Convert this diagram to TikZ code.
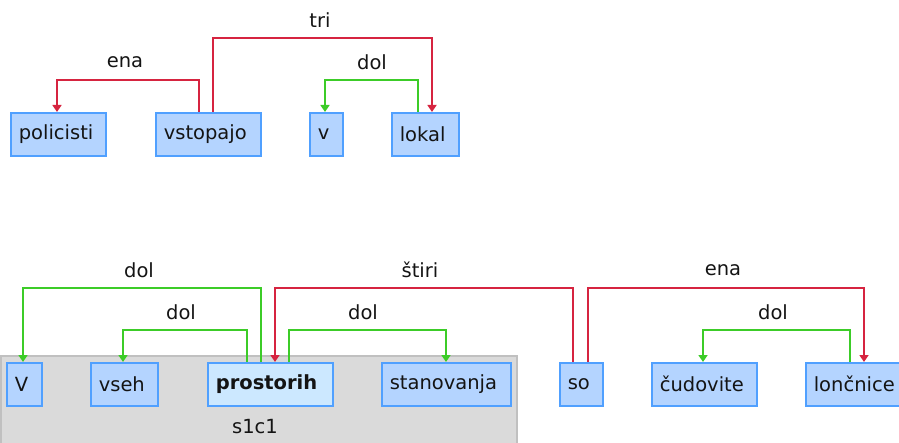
\documentclass[tikz,border=0pt]{standalone}
\usepackage{fontspec}
\setmainfont{DejaVu Sans}
\usetikzlibrary{arrows.meta}
\definecolor{boxfill}{RGB}{180,212,255}
\definecolor{boxline}{RGB}{80,160,255}
\definecolor{headfill}{RGB}{204,232,255}
\definecolor{relred}{RGB}{214,36,64}
\definecolor{relgreen}{RGB}{60,204,40}
\definecolor{grpfill}{RGB}{218,218,218}
\definecolor{grpline}{RGB}{192,192,192}
\definecolor{txt}{RGB}{20,20,20}
\begin{document}
\begin{tikzpicture}[x=1pt,y=-1pt,
  word/.style={draw=boxline,fill=boxfill,line width=1.6pt,anchor=north west,
    minimum height=43pt,inner xsep=8pt,inner ysep=0pt,align=left,
    font=\fontsize{19.5}{22}\selectfont,text=txt},
  lab/.style={font=\fontsize{19.5}{22}\selectfont,text=txt,inner sep=0pt},
  redarr/.style={draw=relred,line width=1.7pt,-{Triangle[width=9pt,length=7pt]}},
  greenarr/.style={draw=relgreen,line width=1.7pt,-{Triangle[width=9pt,length=7pt]}}]
\useasboundingbox (0,0) rectangle (899,443);
\begin{scope}
\clip (0,0) rectangle (899,443);
% group
\node[draw=grpline,fill=grpfill,line width=1.5pt,anchor=north west,minimum width=516pt,minimum height=100pt,inner sep=0pt] (grp) at (0,355) {};
\node[lab] (grplab) at (255,427) {s1c1};
% top row
\node[word,text width=79pt] (policisti) at (10,112) {policisti};
\node[word,text width=89pt] (vstopajo) at (155,112) {vstopajo};
\node[word,text width=17pt] (v1) at (309,112) {v};
\node[word,text width=51pt] (lokal) at (391,112) {lokal};
% bottom row
\node[word,text width=19pt] (V2) at (6,362) {V};
\node[word,text width=51pt] (vseh) at (90,362) {vseh};
\node[word,text width=109pt,fill=headfill,font=\fontsize{19.5}{22}\selectfont\bfseries] (prostorih) at (207,362) {prostorih};
\node[word,text width=113pt] (stanovanja) at (381,362) {stanovanja};
\node[word,text width=27pt] (so) at (559,362) {so};
\node[word,text width=89pt] (cudovite) at (651,362) {čudovite};
\node[word,text width=84pt] (loncnice) at (805,362) {lončnice};
% top arcs
\draw[redarr] ([xshift=44pt]vstopajo.north west) -- ++(0,-32) -| ([xshift=47pt]policisti.north west);
\draw[redarr] ([xshift=58pt]vstopajo.north west) -- ++(0,-74) -| ([xshift=41pt]lokal.north west);
\draw[greenarr] ([xshift=27pt]lokal.north west) -- ++(0,-32) -| ([xshift=16pt]v1.north west);
\node[lab] (l1) at (125,62) {ena};
\node[lab] (l2) at (320,20) {tri};
\node[lab] (l3) at (372,62) {dol};
% bottom arcs
\draw[greenarr] ([xshift=54pt]prostorih.north west) -- ++(0,-74) -| ([xshift=17pt]V2.north west);
\draw[greenarr] ([xshift=40pt]prostorih.north west) -- ++(0,-32) -| ([xshift=33pt]vseh.north west);
\draw[redarr] ([xshift=14pt]so.north west) -- ++(0,-74) -| ([xshift=68pt]prostorih.north west);
\draw[greenarr] ([xshift=82pt]prostorih.north west) -- ++(0,-32) -| ([xshift=65pt]stanovanja.north west);
\draw[redarr] ([xshift=29pt]so.north west) -- ++(0,-74) -| ([xshift=59pt]loncnice.north west);
\draw[greenarr] ([xshift=45pt]loncnice.north west) -- ++(0,-32) -| ([xshift=52pt]cudovite.north west);
\node[lab] (l4) at (139,270) {dol};
\node[lab] (l5) at (181,312) {dol};
\node[lab] (l6) at (420,270) {štiri};
\node[lab] (l7) at (363,312) {dol};
\node[lab] (l8) at (723,270) {ena};
\node[lab] (l9) at (773,312) {dol};
\end{scope}
\end{tikzpicture}
\end{document}
